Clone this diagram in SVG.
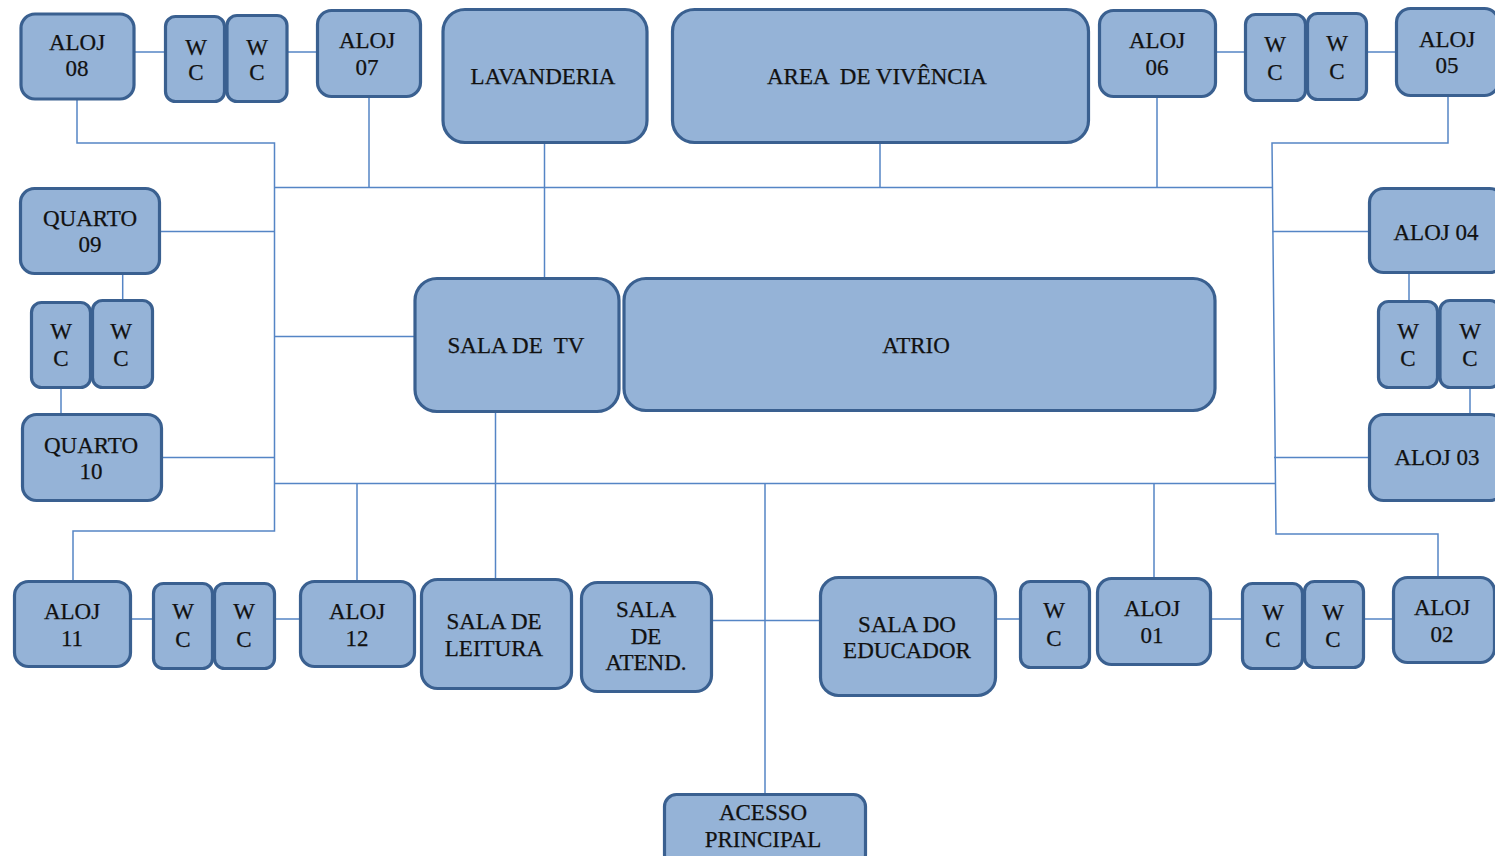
<svg xmlns="http://www.w3.org/2000/svg" width="1495" height="856" viewBox="0 0 1495 856">
<style>
.n{fill:#95b3d7;stroke:#3a6090;stroke-width:3.2}
.c{fill:none;stroke:#5585c5;stroke-width:1.5}
.t text{font-family:'Liberation Serif',serif;font-size:23px;fill:#111;stroke:#111;stroke-width:0.25;text-anchor:middle}
</style>
<rect width="1495" height="856" fill="#fff"/>
<g id="connectors">
<path class="c" d="M134.5 52H165"/>
<path class="c" d="M287 52H317"/>
<path class="c" d="M77 99V143H274.5V531H73V581"/>
<path class="c" d="M369 97V187.5"/>
<path class="c" d="M274.5 187.5H1272"/>
<path class="c" d="M544.5 142V278"/>
<path class="c" d="M880 142V187.5"/>
<path class="c" d="M1157 97V187.5"/>
<path class="c" d="M1216 52H1245"/>
<path class="c" d="M1367 52H1396"/>
<path class="c" d="M1448 96V143H1272L1276 534H1438V577"/>
<path class="c" d="M160 231.5H274.5"/>
<path class="c" d="M122.7 274V300"/>
<path class="c" d="M61 388V414"/>
<path class="c" d="M162 457.5H274.5"/>
<path class="c" d="M274.5 336.5H415"/>
<path class="c" d="M1272.5 231.5H1369"/>
<path class="c" d="M1409 273V301"/>
<path class="c" d="M1470 388V414"/>
<path class="c" d="M1274 457.5H1369"/>
<path class="c" d="M274.5 483.5H1275"/>
<path class="c" d="M357 483.5V581"/>
<path class="c" d="M495.5 412V579"/>
<path class="c" d="M765 483.5V794"/>
<path class="c" d="M1154 483.5V578"/>
<path class="c" d="M131 619H153"/>
<path class="c" d="M274 619H300"/>
<path class="c" d="M712 620.5H820"/>
<path class="c" d="M996 619H1020"/>
<path class="c" d="M1211 619H1242"/>
<path class="c" d="M1364 619H1393"/>
</g>
<g class="t">
<g id="aloj08"><rect class="n" x="21" y="14" width="113" height="85" rx="14"/><text x="77" y="50">ALOJ</text><text x="77" y="76">08</text></g>
<g id="wc-08a"><rect class="n" x="165.5" y="16.5" width="59" height="85" rx="10"/><text x="196" y="55">W</text><text x="196" y="80">C</text></g>
<g id="wc-08b"><rect class="n" x="227" y="15.5" width="60" height="86" rx="10"/><text x="257" y="55">W</text><text x="257" y="80">C</text></g>
<g id="aloj07"><rect class="n" x="317.5" y="10.5" width="103" height="86" rx="14"/><text x="367" y="48">ALOJ</text><text x="367" y="75">07</text></g>
<g id="lavanderia"><rect class="n" x="443" y="9.5" width="204" height="133" rx="22"/><text x="543" y="84">LAVANDERIA</text></g>
<g id="area-vivencia"><rect class="n" x="672.5" y="9.5" width="416" height="133" rx="22"/><text x="877" y="84" xml:space="preserve">AREA  DE VIVÊNCIA</text></g>
<g id="aloj06"><rect class="n" x="1099.5" y="10.5" width="116" height="86" rx="14"/><text x="1157" y="48">ALOJ</text><text x="1157" y="75">06</text></g>
<g id="wc-06a"><rect class="n" x="1245.5" y="14.5" width="60" height="86" rx="10"/><text x="1275" y="52">W</text><text x="1275" y="80">C</text></g>
<g id="wc-06b"><rect class="n" x="1307.5" y="13.5" width="59" height="86" rx="10"/><text x="1337" y="51">W</text><text x="1337" y="79">C</text></g>
<g id="aloj05"><rect class="n" x="1396.5" y="8.5" width="102" height="87" rx="14"/><text x="1447" y="47">ALOJ</text><text x="1447" y="73">05</text></g>
<g id="quarto09"><rect class="n" x="20.5" y="188.5" width="139" height="85" rx="14"/><text x="90" y="226">QUARTO</text><text x="90" y="252">09</text></g>
<g id="wc-09a"><rect class="n" x="31.5" y="302.5" width="59" height="85" rx="10"/><text x="61" y="339">W</text><text x="61" y="366">C</text></g>
<g id="wc-09b"><rect class="n" x="92.5" y="300.5" width="60" height="87" rx="10"/><text x="121" y="339">W</text><text x="121" y="366">C</text></g>
<g id="quarto10"><rect class="n" x="22.5" y="414.5" width="139" height="86" rx="14"/><text x="91" y="453">QUARTO</text><text x="91" y="479">10</text></g>
<g id="sala-tv"><rect class="n" x="415" y="278.5" width="204" height="133" rx="22"/><text x="516" y="353" xml:space="preserve">SALA DE  TV</text></g>
<g id="atrio"><rect class="n" x="624" y="278.5" width="591" height="132" rx="22"/><text x="916" y="353">ATRIO</text></g>
<g id="aloj04"><rect class="n" x="1369.5" y="188.5" width="134" height="84" rx="14"/><text x="1436" y="240">ALOJ 04</text></g>
<g id="wc-04a"><rect class="n" x="1378.5" y="301.5" width="59" height="86" rx="10"/><text x="1408" y="339">W</text><text x="1408" y="366">C</text></g>
<g id="wc-04b"><rect class="n" x="1440" y="300.5" width="60" height="87" rx="10"/><text x="1470" y="339">W</text><text x="1470" y="366">C</text></g>
<g id="aloj03"><rect class="n" x="1369.5" y="414.5" width="134" height="86" rx="14"/><text x="1437" y="465">ALOJ 03</text></g>
<g id="aloj11"><rect class="n" x="14.5" y="581.5" width="116" height="85" rx="14"/><text x="72" y="619">ALOJ</text><text x="72" y="646">11</text></g>
<g id="wc-11a"><rect class="n" x="153.5" y="583.5" width="59" height="85" rx="10"/><text x="183" y="619">W</text><text x="183" y="647">C</text></g>
<g id="wc-11b"><rect class="n" x="214.5" y="583.5" width="60" height="85" rx="10"/><text x="244" y="619">W</text><text x="244" y="647">C</text></g>
<g id="aloj12"><rect class="n" x="300.5" y="581.5" width="114" height="85" rx="14"/><text x="357" y="619">ALOJ</text><text x="357" y="646">12</text></g>
<g id="sala-leitura"><rect class="n" x="421.5" y="579.5" width="150" height="109" rx="16"/><text x="494" y="629">SALA DE</text><text x="494" y="656">LEITURA</text></g>
<g id="sala-atend"><rect class="n" x="581.5" y="582.5" width="130" height="109" rx="16"/><text x="646" y="617">SALA</text><text x="646" y="644">DE</text><text x="646" y="670">ATEND.</text></g>
<g id="sala-educador"><rect class="n" x="820.5" y="577.5" width="175" height="118" rx="18"/><text x="907" y="632">SALA DO</text><text x="907" y="658">EDUCADOR</text></g>
<g id="acesso"><rect class="n" x="664.5" y="794.5" width="201" height="72" rx="12"/><text x="763" y="820">ACESSO</text><text x="763" y="847">PRINCIPAL</text></g>
<g id="wc-educ"><rect class="n" x="1020.5" y="581.5" width="69" height="86" rx="10"/><text x="1054" y="618">W</text><text x="1054" y="646">C</text></g>
<g id="aloj01"><rect class="n" x="1097.5" y="578.5" width="113" height="86" rx="14"/><text x="1152" y="616">ALOJ</text><text x="1152" y="643">01</text></g>
<g id="wc-01a"><rect class="n" x="1242.5" y="583.5" width="60" height="85" rx="10"/><text x="1273" y="620">W</text><text x="1273" y="647">C</text></g>
<g id="wc-01b"><rect class="n" x="1304.5" y="581.5" width="59" height="86" rx="10"/><text x="1333" y="620">W</text><text x="1333" y="647">C</text></g>
<g id="aloj02"><rect class="n" x="1393.5" y="577.5" width="101" height="85" rx="14"/><text x="1442" y="615">ALOJ</text><text x="1442" y="642">02</text></g>
</g>
</svg>
